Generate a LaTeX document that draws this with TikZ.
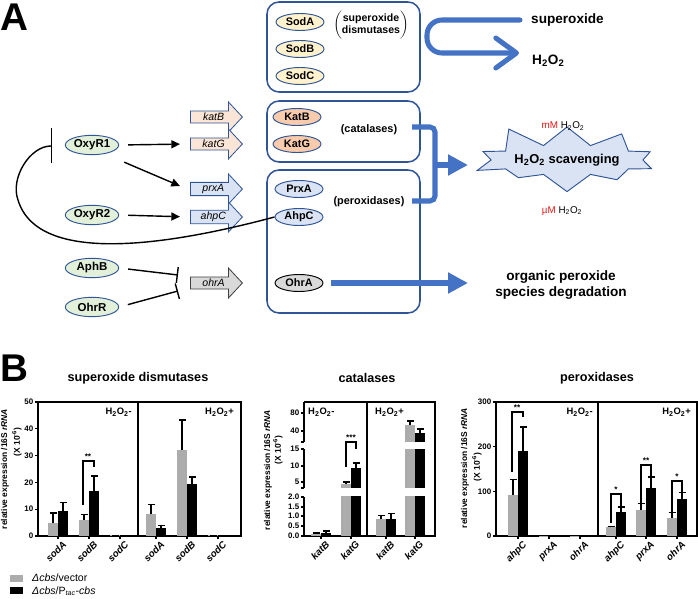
\documentclass[tikz,border=0pt]{standalone}
\usepackage{fontspec}
\setmainfont{Liberation Sans}
\usetikzlibrary{positioning,shapes.geometric,shapes.arrows,shapes.symbols,arrows.meta}

\definecolor{boxblue}{RGB}{47,85,151}
\definecolor{fatblue}{RGB}{68,114,196}
\definecolor{sodfill}{RGB}{255,242,204}
\definecolor{katfill}{RGB}{248,203,173}
\definecolor{katgene}{RGB}{251,229,214}
\definecolor{prxfill}{RGB}{218,227,243}
\definecolor{ohrfill}{RGB}{217,217,217}
\definecolor{regfill}{RGB}{226,240,217}
\definecolor{bargrey}{RGB}{172,172,172}
\definecolor{mred}{RGB}{232,20,20}

\tikzset{
  prot/.style={ellipse, draw=boxblue, line width=0.8pt, inner sep=0pt, minimum width=1.44cm, minimum height=0.51cm, font=\fontsize{9.3}{11}\selectfont\bfseries},
  reg/.style={prot, fill=regfill, minimum width=1.6cm, minimum height=0.58cm, font=\fontsize{9.8}{11}\selectfont\bfseries},
  gene/.style={single arrow, draw=boxblue, line width=0.7pt, inner sep=1pt, minimum height=1.56cm, minimum width=0.9cm, single arrow head extend=0.24cm, single arrow tip angle=94, font=\fontsize{9}{10}\selectfont\itshape},
  group/.style={draw=boxblue, line width=1.3pt, rounded corners=0.36cm},
  act/.style={-{Triangle[length=2.6mm,width=2.4mm]}, line width=1.2pt},
  inhib/.style={-{Bar[width=0.48cm]}, line width=1.2pt},
  fat/.style={draw=fatblue, line width=4.3pt},
  plain/.style={font=\fontsize{9.3}{10.6}\selectfont\bfseries, inner sep=0pt},
  big/.style={font=\fontsize{11.6}{13.7}\selectfont\bfseries, inner sep=0pt, align=center},
  panel/.style={font=\fontsize{33}{33}\selectfont\bfseries, inner sep=0pt},
  title/.style={font=\fontsize{10.8}{12}\selectfont\bfseries, inner sep=0pt},
  axis/.style={line width=0.95pt},
  err/.style={line width=1pt},
  ticklab/.style={anchor=east, inner sep=1pt, font=\fontsize{6.8}{7}\selectfont\bfseries},
  xlab/.style={anchor=north east, rotate=45, inner sep=0pt, font=\fontsize{8.3}{9}\selectfont\bfseries\itshape},
  ylab/.style={rotate=90, inner sep=0pt, font=\fontsize{7.2}{8}\selectfont\bfseries},
  cond/.style={inner sep=0pt, font=\fontsize{8}{9}\selectfont\bfseries},
  sig/.style={inner sep=0pt, font=\fontsize{7}{8}\selectfont\bfseries},
  legtxt/.style={anchor=west, inner sep=0pt, font=\fontsize{9}{10}\selectfont}
}

\begin{document}
\begin{tikzpicture}[x=0.03cm, y=-0.03cm]
	\useasboundingbox (0,0) rectangle (698,599);
	% Panel A: regulators, genes and enzymes
	\node[panel] (labA) at (14,17) {A};
	\draw[group] (267,2) rectangle (420,92);
	\draw[group] (267,101) rectangle (420,162);
	\draw[group] (267,170) rectangle (420,313);
	\node[prot, fill=sodfill] (soda) at (300,22) {SodA};
	\node[prot, fill=sodfill] (sodb) at (300,49) {SodB};
	\node[prot, fill=sodfill] (sodc) at (300,76) {SodC};
	\node[prot, fill=katfill] (katb) at (297,117) {KatB};
	\node[prot, fill=katfill] (katg) at (297,144) {KatG};
	\node[prot, fill=prxfill] (prxa) at (299,189) {PrxA};
	\node[prot, fill=prxfill] (ahpc) at (299,217) {AhpC};
	\node[prot, fill=ohrfill, draw=black] (ohra) at (299,283) {OhrA};
	\node[plain, font=\fontsize{9}{10.2}\selectfont\bfseries] (sodtxt) at (371,25) {$\left(\begin{tabular}{@{}c@{}}superoxide\\dismutases\end{tabular}\right)$};
	\node[plain] (cattxt) at (369,130) {(catalases)};
	\node[plain] (perxtxt) at (369,202) {(peroxidases)};

	\node[reg] (oxyr1) at (92,145) {OxyR1};
	\node[reg] (oxyr2) at (92,215) {OxyR2};
	\node[reg] (aphb) at (92,268) {AphB};
	\node[reg] (ohrr) at (92,307) {OhrR};

	\node[gene, fill=katgene, anchor=tail] (katbg) at (190,117) {katB};
	\node[gene, fill=katgene, anchor=tail] (katgg) at (190,144) {katG};
	\node[gene, fill=prxfill, anchor=tail] (prxag) at (190,189) {prxA};
	\node[gene, fill=prxfill, anchor=tail] (ahpcg) at (190,217) {ahpC};
	\node[gene, fill=ohrfill, draw=black!75, anchor=tail] (ohrag) at (190,283) {ohrA};

	\draw[act, shorten <=0.27cm, shorten >=0.3cm] (oxyr1.east) -- (katgg.tail);
	\draw[act] ([xshift=0.39cm, yshift=-0.3cm]oxyr1.south east) -- ([xshift=-0.3cm, yshift=0.09cm]prxag.tail);
	\draw[act, shorten <=0.27cm, shorten >=0.3cm] (oxyr2.east) -- (ahpcg.tail);
	\draw[inhib, shorten <=0.27cm] (aphb.east) -- ([xshift=-0.36cm, yshift=0.24cm]ohrag.tail);
	\draw[inhib, shorten <=0.27cm] (ohrr.east) -- ([xshift=-0.36cm, yshift=-0.24cm]ohrag.tail);
	\coordinate (oxybar) at (52,146);
	\draw[-{Bar[width=1.05cm]}, line width=1.2pt] (ahpc.west) .. controls (170,245) and (38,266) .. (18,200) .. controls (10,178) and (30,146) .. (oxybar);

	% reactions
	\node[big, anchor=west] (superox) at (531,20) {superoxide};
	\node[big, anchor=west] (hperox) at (532,61) {H\textsubscript{2}O\textsubscript{2}};
	\coordinate (dismin) at (520,20);
	\coordinate (dismout) at (519,53);
	\draw[fat, line cap=round, rounded corners=0.45cm, -{Straight Barb[length=0.62cm, width=0.9cm, round]}] (dismin) -- (427,20) -- (427,53) -- (dismout);

	\node[starburst, draw=boxblue, fill=prxfill, line width=0.8pt, starburst points=10, starburst point height=0.72cm, random starburst=11, inner xsep=1pt, inner ysep=4pt, font=\fontsize{11}{12}\selectfont\bfseries] (scav) at (567,160) {H\textsubscript{2}O\textsubscript{2} scavenging};
	\node[inner sep=0pt, font=\fontsize{8.4}{9}\selectfont] (mmol) at (563,126) {\textcolor{mred}{mM} H\textsubscript{2}O\textsubscript{2}};
	\node[inner sep=0pt, font=\fontsize{8.4}{9}\selectfont] (umol) at (562,211) {\textcolor{mred}{µM} H\textsubscript{2}O\textsubscript{2}};
	\coordinate (catend) at (412,127);
	\coordinate (perxend) at (412,201);
	\coordinate (join) at (435,165);
	\coordinate (scavtip) at (468,165);
	\draw[fat, rounded corners=0.15cm] (catend) -| (join) |- (perxend);
	\draw[fat, -{Triangle[length=0.6cm, width=0.6cm]}] (join) -- (scavtip);

	\node[big] (orgdeg) at (561,285) {organic peroxide\\species degradation};
	\coordinate (orgtip) at (468,283);
	\draw[fat, -{Triangle[length=0.6cm, width=0.6cm]}, shorten <=0.24cm] (ohra.east) -- (orgtip);

	% Panel B: expression bar charts
	\node[panel] (labB) at (14,368) {B};
	\node[title] (t1) at (138,378) {superoxide dismutases};
	\node[title] (t2) at (367,378) {catalases};
	\node[title] (t3) at (597,378) {peroxidases};

	% superoxide dismutases
	\draw[axis] (38,402) rectangle (241,536);
	\draw[axis] (138,402) -- (138,536);
	\foreach \v in {0,10,...,50} \draw[axis] (38,536-2.68*\v) -- ++(-3,0) node[ticklab] {\v};
	\foreach \x/\g/\ge/\b/\be in {58/5/8.6/9.3/12.6, 89/6/8/16.8/22.4, 120/0.2/0.2/0.2/0.2, 156/8.2/11.9/3/3.8, 187/32/43.3/19.4/22, 218/0.2/0.2/0.2/0.2}{
		\fill[bargrey] (\x-10,536) rectangle (\x,536-2.68*\g);
		\fill[black] (\x,536) rectangle (\x+10,536-2.68*\b);
		\draw[err] (\x-5,536-2.68*\g) -- (\x-5,536-2.68*\ge) ++(-3.5,0) -- ++(7,0);
		\draw[err] (\x+5,536-2.68*\b) -- (\x+5,536-2.68*\be) ++(-3.5,0) -- ++(7,0);
	}
	\foreach \x/\t in {58/sodA, 89/sodB, 120/sodC, 156/sodA, 187/sodB, 218/sodC}{
		\draw[axis] (\x,536) -- ++(0,3);
		\node[xlab] at (\x+4,540) {\t};
	}
	\node[cond, anchor=east] at (132,412) {H\textsubscript{2}O\textsubscript{2}-};
	\node[cond, anchor=east] at (234,412) {H\textsubscript{2}O\textsubscript{2}+};
	\draw[err] (83,505) -- (83,461) -- (94,461) -- (94,467);
	\node[sig] at (88,457) {**};
	\node[ylab] at (5,469) {relative expression /16S \textit{rRNA}};
	\node[ylab] at (17,442) {(X 10\textsuperscript{-6})};

	% catalases
	\draw[axis] (304,402) -- (435,402) -- (435,536) -- (304,536);
	\draw[axis] (367,402) -- (367,536);
	\draw[axis] (304,402) -- (304,442) (304,449) -- (304,488) (304,497) -- (304,536);
	\foreach \y/\t in {413/80, 431/40, 449/15, 466/10, 482/5, 497/2.0, 507/1.5, 516/1.0, 526/0.5, 536/0.0} \draw[axis] (304,\y) -- ++(-3,0) node[ticklab] {\t};
	\foreach \y in {442,488} \draw[axis] (304,\y) -- ++(-3,0);
	\foreach \xa/\ya/\yb in {311/536/533.7, 376/536/519.4, 341/536/496, 341/488/484, 405/536/496, 405/488/449, 405/442/425} \fill[bargrey] (\xa,\ya) rectangle (\xa+10,\yb);
	\foreach \xa/\ya/\yb in {321/536/532.5, 386/536/518.5, 351/536/496, 351/488/468, 415/536/496, 415/488/449, 415/442/433} \fill[black] (\xa,\ya) rectangle (\xa+10,\yb);
	\foreach \x/\ya/\yb in {316/533.7/533, 326/532.5/531, 346/484/482, 356/468/463, 381/519.4/515.5, 391/518.5/513.6, 410/425/421, 420/433/429} \draw[err] (\x,\ya) -- (\x,\yb) ++(-3.5,0) -- ++(7,0);
	\foreach \x/\t in {321/katB, 351/katG, 386/katB, 415/katG}{
		\draw[axis] (\x,536) -- ++(0,3);
		\node[xlab] at (\x+4,540) {\t};
	}
	\node[cond, anchor=west] at (308,412) {H\textsubscript{2}O\textsubscript{2}-};
	\node[cond, anchor=west] at (375,412) {H\textsubscript{2}O\textsubscript{2}+};
	\draw[err] (346,467) -- (346,442) -- (356,442) -- (356,449);
	\node[sig] at (351,438) {***};
	\node[ylab] at (268,470) {relative expression /16S \textit{rRNA}};
	\node[ylab] at (278,450) {(X 10\textsuperscript{-6})};

	% peroxidases
	\draw[axis] (496,402) rectangle (697,536);
	\draw[axis] (598,402) -- (598,536);
	\foreach \v in {0,100,200,300} \draw[axis] (496,536-0.4467*\v) -- ++(-3,0) node[ticklab] {\v};
	\foreach \x/\g/\ge/\b/\be in {518/92/126/190/244, 549/1/1/1/1, 580/1/1/1/1, 616/20/22/54/65, 646/58/73/107/132, 677/40/53/83/97}{
		\fill[bargrey] (\x-10,536) rectangle (\x,536-0.4467*\g);
		\fill[black] (\x,536) rectangle (\x+10,536-0.4467*\b);
		\draw[err] (\x-5,536-0.4467*\g) -- (\x-5,536-0.4467*\ge) ++(-3.5,0) -- ++(7,0);
		\draw[err] (\x+5,536-0.4467*\b) -- (\x+5,536-0.4467*\be) ++(-3.5,0) -- ++(7,0);
	}
	\foreach \x/\t in {518/ahpC, 549/prxA, 580/ohrA, 616/ahpC, 646/prxA, 677/ohrA}{
		\draw[axis] (\x,536) -- ++(0,3);
		\node[xlab] at (\x+4,540) {\t};
	}
	\node[cond, anchor=east] at (593,412) {H\textsubscript{2}O\textsubscript{2}-};
	\node[cond, anchor=east] at (691,412) {H\textsubscript{2}O\textsubscript{2}+};
	\draw[err] (512,472) -- (512,412) -- (523,412) -- (523,417);
	\node[sig] at (517,408) {**};
	\draw[err] (611,523) -- (611,494) -- (621,494) -- (621,507);
	\node[sig] at (616,490) {*};
	\draw[err] (641,508) -- (641,465) -- (651,465) -- (651,476);
	\node[sig] at (646,461) {**};
	\draw[err] (672,518) -- (672,481) -- (682,481) -- (682,492);
	\node[sig] at (677,477) {*};
	\node[ylab] at (465,468) {relative expression /16S \textit{rRNA}};
	\node[ylab] at (477,467) {(X 10\textsuperscript{-6})};

	% legend
	\fill[bargrey] (10,575) rectangle (23,582);
	\node[legtxt] (legvec) at (32,578) {\textit{Δcbs}/vector};
	\fill[black] (10,587) rectangle (23,594);
	\node[legtxt] (legtac) at (32,591) {\textit{Δcbs}/P\textsubscript{\textit{tac}}-\textit{cbs}};
\end{tikzpicture}
\end{document}
